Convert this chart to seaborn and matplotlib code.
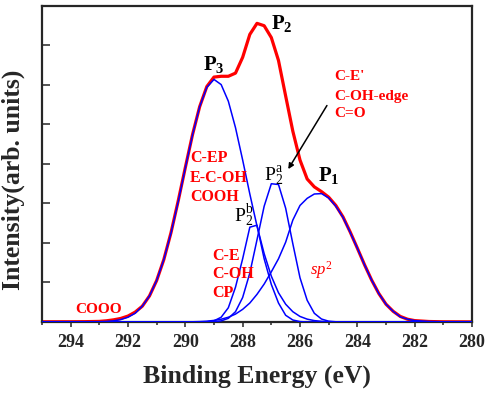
import matplotlib
matplotlib.use("Agg")
import matplotlib.pyplot as plt
import seaborn as sns
import pandas as pd
from matplotlib.ticker import MultipleLocator, FixedLocator

# ---------------- data ----------------
energy = [295.0, 294.0, 293.5, 293.0, 292.75, 292.5, 292.25, 292.0, 291.75, 291.5,
          291.25, 291.0, 290.75, 290.5, 290.25, 290.0, 289.75, 289.5, 289.25, 289.0,
          288.75, 288.5, 288.25, 288.0, 287.75, 287.5, 287.25, 287.0, 286.75, 286.5,
          286.25, 286.0, 285.75, 285.5, 285.25, 285.0, 284.75, 284.5, 284.25, 284.0,
          283.75, 283.5, 283.25, 283.0, 282.75, 282.5, 282.25, 282.0, 281.5, 281.0,
          280.0]

envelope = [0.005, 0.006, 0.008, 0.015, 0.03, 0.055, 0.09, 0.15, 0.25, 0.40,
            0.66, 1.05, 1.58, 2.26, 3.06, 3.91, 4.74, 5.45, 5.96, 6.20,
            6.22, 6.22, 6.30, 6.70, 7.28, 7.56, 7.50, 7.20, 6.62, 5.72,
            4.83, 4.10, 3.62, 3.42, 3.30, 3.16, 2.95, 2.66, 2.28, 1.87,
            1.45, 1.06, 0.72, 0.45, 0.27, 0.14, 0.07, 0.035, 0.012, 0.005,
            0.003]

peak_p3 = [0.0, 0.0, 0.001, 0.006, 0.013, 0.029, 0.061, 0.12, 0.22, 0.40,
           0.66, 1.05, 1.58, 2.25, 3.04, 3.90, 4.73, 5.45, 5.94, 6.14,
           6.01, 5.59, 4.92, 4.10, 3.24, 2.43, 1.73, 1.16, 0.74, 0.45,
           0.26, 0.14, 0.072, 0.035, 0.016, 0.007, 0.003, 0.001, 0.0, 0.0,
           0.0, 0.0, 0.0, 0.0, 0.0, 0.0, 0.0, 0.0, 0.0, 0.0,
           0.0]

peak_p2b = [0.0, 0.0, 0.0, 0.0, 0.0, 0.0, 0.0, 0.0, 0.0, 0.0,
            0.0, 0.0, 0.0, 0.0, 0.0, 0.0, 0.0, 0.0, 0.005, 0.03,
            0.12, 0.36, 0.88, 1.60, 2.40, 2.45, 1.60, 0.95, 0.48, 0.17,
            0.05, 0.01, 0.0, 0.0, 0.0, 0.0, 0.0, 0.0, 0.0, 0.0,
            0.0, 0.0, 0.0, 0.0, 0.0, 0.0, 0.0, 0.0, 0.0, 0.0,
            0.0]

peak_p2a = [0.0, 0.0, 0.0, 0.0, 0.0, 0.0, 0.0, 0.0, 0.0, 0.0,
            0.0, 0.0, 0.0, 0.0, 0.0, 0.0, 0.0, 0.0, 0.001, 0.007,
            0.028, 0.092, 0.26, 0.62, 1.24, 2.08, 2.93, 3.50, 3.48, 2.88,
            1.98, 1.12, 0.55, 0.22, 0.075, 0.02, 0.005, 0.0, 0.0, 0.0,
            0.0, 0.0, 0.0, 0.0, 0.0, 0.0, 0.0, 0.0, 0.0, 0.0,
            0.0]

peak_p1 = [0.0, 0.0, 0.0, 0.0, 0.0, 0.0, 0.0, 0.0, 0.0, 0.0,
           0.0, 0.0, 0.0, 0.0, 0.0, 0.002, 0.005, 0.01, 0.02, 0.04,
           0.07, 0.12, 0.20, 0.32, 0.48, 0.70, 0.96, 1.27, 1.60, 2.02,
           2.58, 2.95, 3.13, 3.24, 3.25, 3.14, 2.93, 2.65, 2.27, 1.87,
           1.45, 1.06, 0.72, 0.45, 0.27, 0.13, 0.07, 0.035, 0.012, 0.004,
           0.0]

x_ticks = [294, 292, 290, 288, 286, 284, 282, 280]
x_tick_labels = ["294", "292", "290", "288", "286", "284", "282", "280"]

# ---------------- style ----------------
sns.set_style("ticks")
plt.rcParams["font.family"] = ["Liberation Serif", "DejaVu Serif"]
plt.rcParams["mathtext.fontset"] = "custom"
plt.rcParams["mathtext.rm"] = "Liberation Serif"
plt.rcParams["mathtext.bf"] = "Liberation Serif:bold"
plt.rcParams["mathtext.it"] = "Liberation Serif:italic"

RED = "#ff0000"
BLUE = "#0000ff"

fig = plt.figure(figsize=(4.91, 3.98), dpi=100)
ax = fig.add_axes([0.0855, 0.191, 0.8758, 0.794])

df = pd.DataFrame({"energy": energy, "envelope": envelope, "P3": peak_p3,
                   "P2b": peak_p2b, "P2a": peak_p2a, "P1": peak_p1})

sns.lineplot(data=df, x="energy", y="envelope", color=RED, linewidth=2.3,
             ax=ax, sort=False, zorder=2)
for col in ["P3", "P2b", "P2a", "P1"]:
    sns.lineplot(data=df, x="energy", y=col, color=BLUE, linewidth=1.1,
                 ax=ax, sort=False, zorder=3)

ax.set_xlim(295, 280)
ax.set_ylim(0, 8)

ax.xaxis.set_major_locator(FixedLocator(x_ticks))
ax.set_xticklabels(x_tick_labels)
ax.xaxis.set_minor_locator(MultipleLocator(1))
ax.yaxis.set_major_locator(FixedLocator([1, 2, 3, 4, 5, 6, 7]))
ax.set_yticklabels([])

ax.tick_params(axis="x", which="major", direction="out", length=3.6, width=1.1,
               pad=5, labelsize=13)
ax.tick_params(axis="x", which="minor", direction="out", length=2.2, width=1.1)
ax.tick_params(axis="y", which="major", direction="in", length=5.8, width=1.1)
for lab in ax.get_xticklabels():
    lab.set_fontweight("bold")

for sp in ax.spines.values():
    sp.set_linewidth(1.6)
    sp.set_visible(True)

ax.set_xlabel("Binding Energy (eV)", fontsize=18.5, fontweight="bold")
ax.set_ylabel("Intensity(arb. units)", fontsize=18.5, fontweight="bold")
ax.xaxis.set_label_coords(0.5, -0.135)
ax.yaxis.set_label_coords(-0.04, 0.449)

# peak labels
ax.text(287.01, 7.42, r"$\mathbf{P_2}$", fontsize=15, color="black")
ax.text(289.38, 6.38, r"$\mathbf{P_3}$", fontsize=15, color="black")
ax.text(285.37, 3.57, r"$\mathbf{P_1}$", fontsize=15, color="black")
ax.text(287.26, 3.57, r"$\mathrm{P_2^a}$", fontsize=14, color="black")
ax.text(288.30, 2.53, r"$\mathrm{P_2^b}$", fontsize=14, color="black")

# red annotations
red_kw = dict(fontsize=11.5, fontweight="bold", color=RED)
for txt, yy in [("C-EP", 4.05), ("E-C-OH", 3.55), ("COOH", 3.07)]:
    ax.text(289.84, yy, txt, **red_kw)
for txt, yy in [("C-E", 1.57), ("C-OH", 1.11), ("CP", 0.63)]:
    ax.text(289.07, yy, txt, **red_kw)
for txt, yy in [("C-E'", 6.13), ("C-OH-edge", 5.62), ("C=O", 5.19)]:
    ax.text(284.81, yy, txt, fontsize=11, fontweight="bold", color=RED)
ax.text(293.85, 0.23, "COOO", fontsize=11, fontweight="bold", color=RED)
ax.text(285.65, 1.19, r"$\mathit{sp^2}$", fontsize=12, color=RED)

ax.annotate("", xy=(286.46, 3.81), xytext=(285.01, 5.54),
            arrowprops=dict(arrowstyle="-|>", color="black", lw=1.1,
                            mutation_scale=8))

fig.savefig("out.png", dpi=100)
